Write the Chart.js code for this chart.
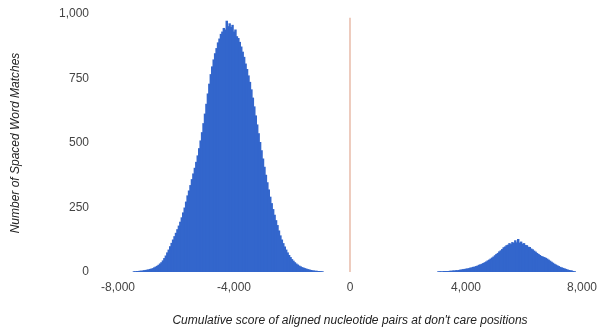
<!DOCTYPE html>
<html>
<head>
<meta charset="utf-8">
<script src="https://cdn.jsdelivr.net/npm/chart.js@4/dist/chart.umd.min.js"></script>
<style>
  html, body { margin: 0; padding: 0; background: #ffffff; }
  #wrap { width: 599px; height: 329px; }
</style>
</head>
<body>
<div id="wrap"><canvas id="chart" width="599" height="329"></canvas></div>
<script>
// Histogram of cumulative don't-care scores (bins of width 50, value = bin centre)
const lowScores = [
  -7450, -7400, -7350, -7300, -7250, -7200, -7150, -7100, -7050, -7000,
  -6950, -6900, -6850, -6800, -6750, -6700, -6650, -6600, -6550, -6500,
  -6450, -6400, -6350, -6300, -6250, -6200, -6150, -6100, -6050, -6000,
  -5950, -5900, -5850, -5800, -5750, -5700, -5650, -5600, -5550, -5500,
  -5450, -5400, -5350, -5300, -5250, -5200, -5150, -5100, -5050, -5000,
  -4950, -4900, -4850, -4800, -4750, -4700, -4650, -4600, -4550, -4500,
  -4450, -4400, -4350, -4300, -4250, -4200, -4150, -4100, -4050, -4000,
  -3950, -3900, -3850, -3800, -3750, -3700, -3650, -3600, -3550, -3500,
  -3450, -3400, -3350, -3300, -3250, -3200, -3150, -3100, -3050, -3000,
  -2950, -2900, -2850, -2800, -2750, -2700, -2650, -2600, -2550, -2500,
  -2450, -2400, -2350, -2300, -2250, -2200, -2150, -2100, -2050, -2000,
  -1950, -1900, -1850, -1800, -1750, -1700, -1650, -1600, -1550, -1500,
  -1450, -1400, -1350, -1300, -1250, -1200, -1150, -1100, -1050, -1000,
  -950
];
const lowCounts = [
  1, 1, 2, 2, 3, 3, 4, 5, 6, 7,
  8, 10, 11, 13, 16, 19, 22, 26, 31, 36,
  43, 52, 62, 74, 85, 98, 111, 124, 137, 150,
  164, 178, 193, 210, 229, 248, 271, 295, 314, 335,
  358, 380, 402, 425, 450, 478, 508, 540, 575, 612,
  650, 690, 728, 765, 795, 822, 846, 866, 888, 903,
  921, 930, 944, 938, 972, 951, 962, 948, 956, 930,
  938, 912, 905, 890, 872, 852, 832, 806, 785, 760,
  735, 706, 674, 640, 605, 570, 536, 502, 470, 438,
  406, 375, 346, 318, 290, 265, 242, 220, 199, 180,
  159, 140, 124, 110, 97, 85, 74, 64, 56, 48,
  42, 36, 31, 27, 23, 20, 17, 15, 13, 11,
  9, 8, 6, 5, 4, 3, 3, 2, 2, 1,
  1
];
const highScores = [
  3050, 3100, 3150, 3200, 3250, 3300, 3350, 3400, 3450, 3500,
  3550, 3600, 3650, 3700, 3750, 3800, 3850, 3900, 3950, 4000,
  4050, 4100, 4150, 4200, 4250, 4300, 4350, 4400, 4450, 4500,
  4550, 4600, 4650, 4700, 4750, 4800, 4850, 4900, 4950, 5000,
  5050, 5100, 5150, 5200, 5250, 5300, 5350, 5400, 5450, 5500,
  5550, 5600, 5650, 5700, 5750, 5800, 5850, 5900, 5950, 6000,
  6050, 6100, 6150, 6200, 6250, 6300, 6350, 6400, 6450, 6500,
  6550, 6600, 6650, 6700, 6750, 6800, 6850, 6900, 6950, 7000,
  7050, 7100, 7150, 7200, 7250, 7300, 7350, 7400, 7450, 7500,
  7550, 7600, 7650, 7700, 7750
];
const highCounts = [
  1, 1, 1, 1, 2, 2, 2, 2, 3, 3,
  4, 4, 5, 5, 6, 7, 8, 9, 10, 11,
  12, 13, 15, 16, 18, 19, 21, 23, 26, 28,
  30, 33, 36, 39, 43, 46, 50, 54, 58, 63,
  68, 72, 78, 82, 87, 94, 97, 102, 104, 110,
  106, 114, 111, 121, 113, 126, 112, 116, 108, 110,
  103, 102, 96, 95, 89, 86, 81, 77, 72, 68,
  64, 60, 58, 56, 53, 50, 46, 42, 38, 34,
  30, 27, 24, 21, 18, 16, 14, 12, 10, 8,
  6, 5, 4, 2, 1
];

// Marker at score zero
const markerScore = 0;
const markerHeight = 985;

// Axis ranges and tick steps
const xRange = [-8000, 8000];
const xStep = 4000;
const yRange = [0, 1000];
const yStep = 250;

const histogram = lowScores.map((s, i) => ({ x: s, y: lowCounts[i] }))
  .concat(highScores.map((s, i) => ({ x: s, y: highCounts[i] })));

const FONT = '"Liberation Sans", Arial, sans-serif';

new Chart(document.getElementById('chart'), {
  data: {
    datasets: [
      {
        type: 'bar',
        label: 'Spaced word matches',
        data: histogram,
        backgroundColor: '#3366cc',
        borderWidth: 0,
        barPercentage: 1.0,
        categoryPercentage: 1.0,
        inflateAmount: 0.5,
        order: 2
      },
      {
        type: 'line',
        label: 'Zero',
        data: [{ x: markerScore, y: 0 }, { x: markerScore, y: markerHeight }],
        borderColor: '#e2a993',
        borderWidth: 1.2,
        pointRadius: 0,
        fill: false,
        order: 1
      }
    ]
  },
  options: {
    responsive: false,
    animation: false,
    events: [],
    layout: { padding: { top: 14, right: 17, bottom: 0, left: 0 } },
    plugins: {
      legend: { display: false },
      tooltip: { enabled: false }
    },
    scales: {
      x: {
        type: 'linear',
        min: xRange[0],
        max: xRange[1],
        offset: false,
        grid: { display: false, drawTicks: false },
        border: { display: false },
        ticks: {
          stepSize: xStep,
          padding: 8,
          maxRotation: 0,
          color: '#444444',
          font: { family: FONT, size: 12 }
        },
        title: {
          display: true,
          text: "Cumulative score of aligned nucleotide pairs at don't care positions",
          color: '#222222',
          font: { family: FONT, size: 12, style: 'italic' },
          padding: { top: 0, bottom: 1 }
        },
        afterFit: (scale) => {
          scale.height = 57;
          scale.paddingLeft = 0;
          scale.paddingRight = 0;
        }
      },
      y: {
        type: 'linear',
        min: yRange[0],
        max: yRange[1],
        grid: { display: false, drawTicks: false },
        border: { display: false },
        ticks: {
          stepSize: yStep,
          padding: 29,
          color: '#444444',
          font: { family: FONT, size: 12 }
        },
        title: {
          display: true,
          text: 'Number of Spaced Word Matches',
          color: '#222222',
          font: { family: FONT, size: 12, style: 'italic' },
          padding: { top: 8, bottom: 0 }
        },
        afterFit: (scale) => {
          scale.width = 118;
          scale.paddingTop = 0;
          scale.paddingBottom = 0;
        }
      }
    }
  }
});
</script>
</body>
</html>
